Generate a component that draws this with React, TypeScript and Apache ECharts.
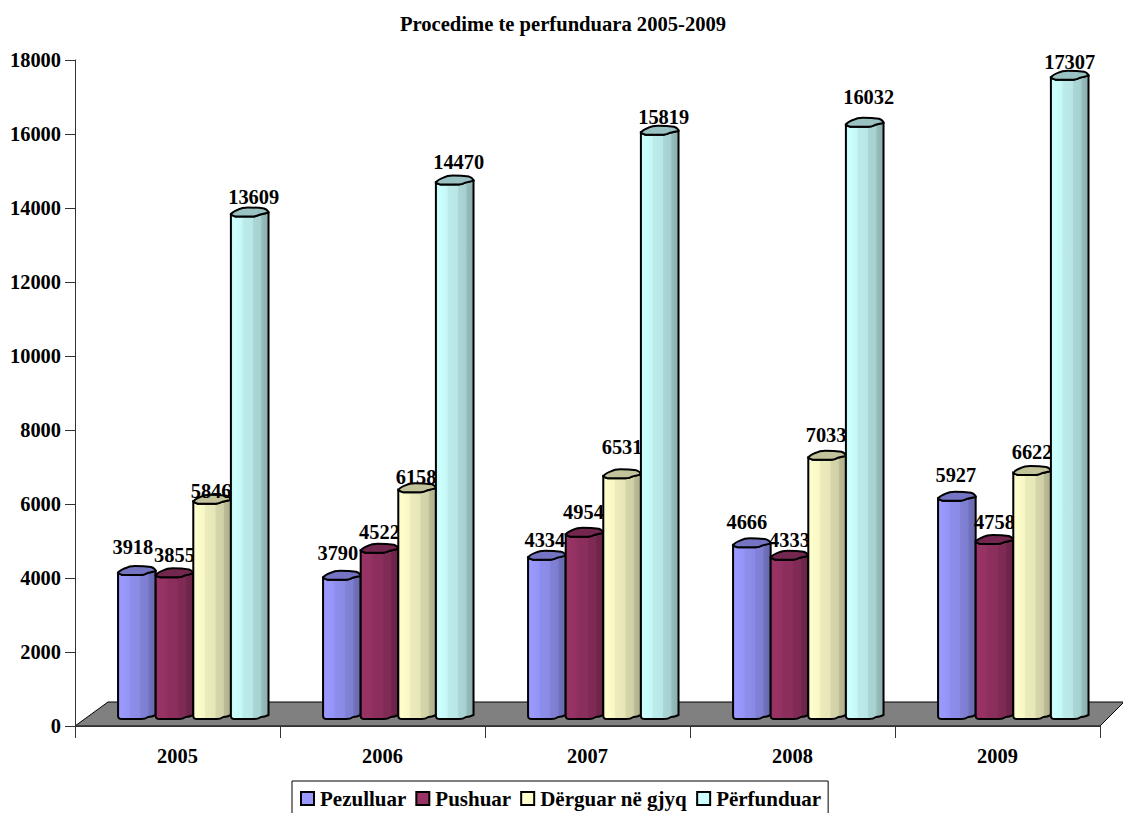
import React, { useEffect, useRef } from "react";
import * as echarts from "echarts";

const categories = ["2005", "2006", "2007", "2008", "2009"];
const seriesNames = ["Pezulluar", "Pushuar", "Dërguar në gjyq", "Përfunduar"];
const pezulluar = [3918, 3790, 4334, 4666, 5927];
const pushuar = [3855, 4522, 4954, 4333, 4758];
const derguar = [5846, 6158, 6531, 7033, 6622];
const perfunduar = [13609, 14470, 15819, 16032, 17307];
const values = [pezulluar, pushuar, derguar, perfunduar];
const yTicks = { min: 0, max: 18000, interval: 2000 };

const FONT = '"Liberation Serif", "Times New Roman", serif';
const palette = [
  { base: [153, 153, 255] },
  { base: [153, 51, 102] },
  { base: [255, 255, 204] },
  { base: [204, 255, 255] },
];
// label placement relative to the bar's top-centre, in pixels [dx, dy]
const labelNudge = [
  [[-4, -27], [-4, -26], [-2, -19], [-5, -24], [-1, -25]],
  [[0, -21], [0, -20], [-1, -24], [0, -19], [0, -21]],
  [[-1, -12], [-1, -14], [0, -30], [-1, -24], [0, -22]],
  [[4, -18], [4, -22], [4, -17], [4, -29], [0, -17]],
];

const shade = (b: number[], k: number) =>
  `rgb(${Math.round(b[0] * k)},${Math.round(b[1] * k)},${Math.round(b[2] * k)})`;

function barRenderer(si: number) {
  return (params: any, api: any) => {
    const cat = api.value(0);
    const val = api.value(1);
    const bandW = api.size([1, 0])[0];
    const cx = api.coord([cat, 0])[0];
    const zero = api.coord([cat, 0])[1];
    const top = api.coord([cat, val])[1];
    const w = bandW * 0.1835;
    const groupL = cx - bandW / 2 + bandW * 0.21;
    const l = groupL + si * w;
    const r = l + w;
    const lift = 7;
    const yb = zero - lift;
    const yt = top - lift;
    const px = (f: number) => l + w * f;
    const b = palette[si].base;
    const gradient = new echarts.graphic.LinearGradient(0, 0, 1, 0, [
      { offset: 0, color: shade(b, 0.97) },
      { offset: 0.08, color: shade(b, 1) },
      { offset: 0.3, color: shade(b, 0.97) },
      { offset: 0.32, color: shade(b, 0.92) },
      { offset: 0.58, color: shade(b, 0.9) },
      { offset: 0.6, color: shade(b, 0.84) },
      { offset: 0.8, color: shade(b, 0.82) },
      { offset: 0.82, color: shade(b, 0.74) },
      { offset: 1, color: shade(b, 0.68) },
    ]);
    const body = [
      `M${l} ${yt}`,
      `L${l} ${yb - 3}`,
      `Q${l} ${yb} ${px(0.1)} ${yb}`,
      `L${px(0.62)} ${yb}`,
      `Q${px(0.72)} ${yb} ${px(0.8)} ${yb - 2}`,
      `Q${px(0.9)} ${yb - 2} ${r} ${yb - 4}`,
      `L${r} ${yt - 3}`,
      `Q${px(0.9)} ${yt - 2} ${px(0.78)} ${yt - 1}`,
      `Q${px(0.68)} ${yt + 1} ${px(0.6)} ${yt + 1}`,
      `L${px(0.12)} ${yt + 1}`,
      `Q${px(0.04)} ${yt} ${l} ${yt - 1}`,
      "Z",
    ].join(" ");
    const cap = [
      `M${l} ${yt - 1}`,
      `Q${px(0.04)} ${yt} ${px(0.12)} ${yt + 1}`,
      `L${px(0.6)} ${yt + 1}`,
      `Q${px(0.68)} ${yt + 1} ${px(0.78)} ${yt - 1}`,
      `Q${px(0.9)} ${yt - 2} ${r} ${yt - 3}`,
      `Q${r - 1} ${yt - 6} ${px(0.88)} ${yt - 7}`,
      `Q${px(0.7)} ${yt - 8} ${px(0.45)} ${yt - 8}`,
      `Q${px(0.3)} ${yt - 8} ${px(0.2)} ${yt - 6}`,
      `Q${px(0.05)} ${yt - 4} ${l} ${yt - 1}`,
      "Z",
    ].join(" ");
    const n = labelNudge[si][cat];
    return {
      type: "group",
      children: [
        {
          type: "path",
          shape: { pathData: body },
          style: { fill: gradient, stroke: "#000", lineWidth: 2 },
        },
        {
          type: "path",
          shape: { pathData: cap },
          style: { fill: shade(b, 0.76), stroke: "#000", lineWidth: 2 },
        },
        {
          type: "text",
          style: {
            text: String(val),
            x: l + w / 2 + n[0],
            y: top - lift + n[1],
            align: "center",
            verticalAlign: "middle",
            fill: "#000",
            font: `bold 20.4px ${FONT}`,
          },
        },
      ],
    };
  };
}

function floorRenderer(params: any, api: any) {
  const c = params.coordSys;
  const y0 = c.y + c.height;
  return {
    type: "polygon",
    shape: {
      points: [
        [c.x, y0],
        [c.x + 33, y0 - 24],
        [c.x + c.width + 24, y0 - 24],
        [c.x + c.width, y0],
      ],
    },
    style: { fill: "#808080", stroke: "#000", lineWidth: 1 },
  };
}

export default function App() {
  const ref = useRef<HTMLDivElement>(null);
  useEffect(() => {
    document.body.style.margin = "0";
    const chart = echarts.init(ref.current!, null, { renderer: "svg" });
    chart.setOption({
      animation: false,
      backgroundColor: "#fff",
      title: {
        text: "Procedime te perfunduara 2005-2009",
        left: 558,
        top: 8,
        textAlign: "center",
        textStyle: { fontFamily: FONT, fontWeight: "bold", fontSize: 20.6, color: "#000" },
      },
      grid: { left: 75, right: 23, top: 60, bottom: 87, containLabel: false },
      xAxis: {
        type: "category",
        data: categories,
        axisLine: { lineStyle: { color: "#333", width: 1 } },
        axisTick: { show: true, alignWithLabel: false, length: 12, lineStyle: { color: "#333" } },
        axisLabel: { color: "#000", fontFamily: FONT, fontWeight: "bold", fontSize: 20.4, margin: 20 },
        z: 1,
      },
      yAxis: {
        type: "value",
        min: yTicks.min,
        max: yTicks.max,
        interval: yTicks.interval,
        splitLine: { show: false },
        axisLine: { show: true, lineStyle: { color: "#333", width: 1 } },
        axisTick: { show: true, length: 10, lineStyle: { color: "#333" } },
        axisLabel: {
          color: "#000",
          fontFamily: FONT,
          fontWeight: "bold",
          fontSize: 20.4,
          margin: 14,
          formatter: (v: number) => String(v),
        },
        z: 1,
      },
      legend: {
        data: seriesNames,
        left: 292,
        top: 781,
        orient: "horizontal",
        icon: "rect",
        itemWidth: 13,
        itemHeight: 13,
        itemGap: 9,
        padding: [7, 7, 14, 8],
        borderColor: "#000",
        borderWidth: 1,
        backgroundColor: "#fff",
        textStyle: { fontFamily: FONT, fontWeight: "bold", fontSize: 21, color: "#000", padding: [0, 0, 0, 1] },
      },
      series: [
        {
          type: "custom",
          name: "floor",
          silent: true,
          clip: false,
          z: 1,
          renderItem: floorRenderer,
          data: [[0, 0]],
          encode: { x: 0, y: 1 },
        },
        ...seriesNames.map((name, si) => ({
          type: "custom",
          name,
          clip: false,
          z: 2,
          itemStyle: { color: shade(palette[si].base, 1), borderColor: "#000", borderWidth: 1.5 },
          renderItem: barRenderer(si),
          data: values[si].map((v, i) => [i, v]),
          encode: { x: 0, y: 1 },
        })),
      ],
    });
    return () => chart.dispose();
  }, []);
  return <div ref={ref} style={{ width: 1123, height: 813 }} />;
}
